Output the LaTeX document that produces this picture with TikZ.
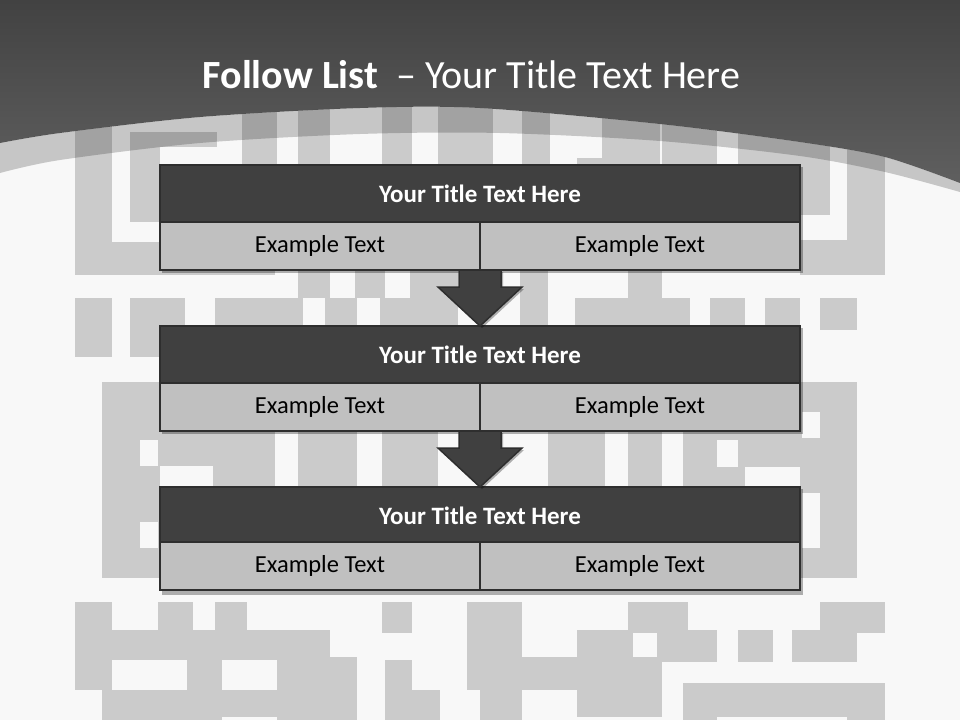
\documentclass[tikz,border=0pt]{standalone}
\usepackage{fontspec}
\setmainfont{Carlito}
\usetikzlibrary{calc}
\definecolor{bgc}{HTML}{F8F8F8}
\definecolor{maze}{HTML}{CBCBCB}
\definecolor{hdr}{HTML}{404040}
\definecolor{cellc}{HTML}{C0C0C0}
\definecolor{edgec}{HTML}{2E2E2E}
\definecolor{topdark}{HTML}{424242}
\definecolor{botdark}{HTML}{5F5F5F}
\tikzset{
  hdrbox/.style={rectangle, draw=edgec, line width=2.5pt, fill=hdr, minimum width=640pt, minimum height=57pt, inner sep=0pt, text=white, font=\bfseries\fontsize{25}{30}\selectfont},
  cellbox/.style={rectangle, draw=edgec, line width=2.5pt, fill=cellc, minimum width=320pt, minimum height=48pt, inner sep=0pt, text=black, font=\fontsize{24.5}{29}\selectfont},
  arrowshape/.style={fill=hdr, draw=edgec, line width=1.5pt, line join=miter},
  shadowbox/.style={fill=black, opacity=0.3}
}
\begin{document}
\begin{tikzpicture}[x=1pt,y=-1pt]
\useasboundingbox (0,0) rectangle (960,720);
\fill[bgc] (0,0) rectangle (960,720);
% maze background
\foreach \a/\b/\c/\d in {
 75/110/112/275, 75/242/275/275, 130/132/217/147, 130/132/160/222,
 242/100/277/165, 298/100/330/165, 382/100/412/165, 438/100/493/165,
 522/100/550/165, 577/158/660/165, 602/100/660/165, 662/110/717/165,
 738/120/830/165, 800/120/830/215, 847/140/885/275, 800/240/885/275,
 298/270/330/298, 355/270/385/298, 410/270/458/326, 215/298/303/326,
 325/298/357/326, 380/298/410/326, 75/298/112/357, 130/298/185/357,
 520/270/548/326, 575/298/690/326, 628/270/662/298, 710/298/745/326,
 765/298/800/326, 820/298/857/330,
 102/382/160/578, 160/431/275/466, 213/431/275/487, 298/431/357/487,
 382/431/438/487, 548/431/605/487, 628/431/662/487, 683/431/800/467,
 683/467/745/487, 800/382/857/578,
 75/602/112/690, 158/602/193/630, 215/602/247/630, 75/630/330/660,
 187/660/222/720, 102/690/222/720, 277/657/357/720, 222/690/357/717,
 382/602/412/633, 385/660/412/720, 412/690/440/720, 467/602/522/690,
 480/690/522/720, 522/657/577/690, 577/630/662/717, 628/602/688/630,
 657/630/717/662, 738/630/773/662, 792/630/857/662, 820/602/885/633,
 683/683/885/720}
 \fill[maze] (\a,\b) rectangle (\c,\d);
\foreach \a/\b/\c/\d in {
 140/440/158/466, 140/522/158/548, 802/412/820/438, 802/493/820/548,
 717/440/738/467, 633/633/657/657, 717/717/847/720}
 \fill[bgc] (\a,\b) rectangle (\c,\d);
% top dark band
\shade[top color=topdark, bottom color=botdark]
  (0,0) -- (960,0) -- plot[smooth] coordinates {(960,183) (885,157) (800,142) (660,124) (480,108) (360,108) (200,117) (60,133) (0,143)} -- cycle;
\fill[black, opacity=0.2]
  plot[smooth] coordinates {(0,143) (60,133) (200,117) (360,108) (480,108) (660,124) (800,142) (885,157) (960,183)}
  -- plot[smooth] coordinates {(960,192) (885,172) (800,156) (660,141) (500,133) (360,134) (200,143) (60,160) (0,173)} -- cycle;
\node[anchor=base, text=white, font=\fontsize{40}{48}\selectfont] (title) at (471.5,88) {\textbf{Follow List}\ \ – Your Title Text Here};
% shadows
\foreach \t in {165,326,487}
  \fill[shadowbox] (162,\t+2) rectangle (803,\t+108);
% boxes
\node[hdrbox] (t1) at (480,193.5) {Your Title Text Here};
\node[cellbox] (l1) at (320,246) {Example Text};
\node[cellbox] (r1) at (640,246) {Example Text};
\node[hdrbox] (t2) at (480,354.5) {Your Title Text Here};
\node[cellbox] (l2) at (320,407) {Example Text};
\node[cellbox] (r2) at (640,407) {Example Text};
\node[hdrbox] (t3) at (480,515.5) {Your Title Text Here};
\node[cellbox] (l3) at (320,566) {Example Text};
\node[cellbox] (r3) at (640,566) {Example Text};
% arrows
\coordinate (a1) at (480,271);
\coordinate (a2) at (480,432);
\foreach \p in {a1,a2}{
  \fill[black,opacity=0.3] ($(\p)+(-19,1)$) -- ($(\p)+(23,1)$) -- ($(\p)+(23,18)$) -- ($(\p)+(44,18)$) -- ($(\p)+(2,57)$) -- ($(\p)+(-40,18)$) -- ($(\p)+(-19,18)$) -- cycle;
  \draw[arrowshape] ($(\p)+(-21,-1)$) -- ($(\p)+(21,-1)$) -- ($(\p)+(21,16)$) -- ($(\p)+(42,16)$) -- ($(\p)+(0,55)$) -- ($(\p)+(-42,16)$) -- ($(\p)+(-21,16)$) -- cycle;
}
\end{tikzpicture}
\end{document}
